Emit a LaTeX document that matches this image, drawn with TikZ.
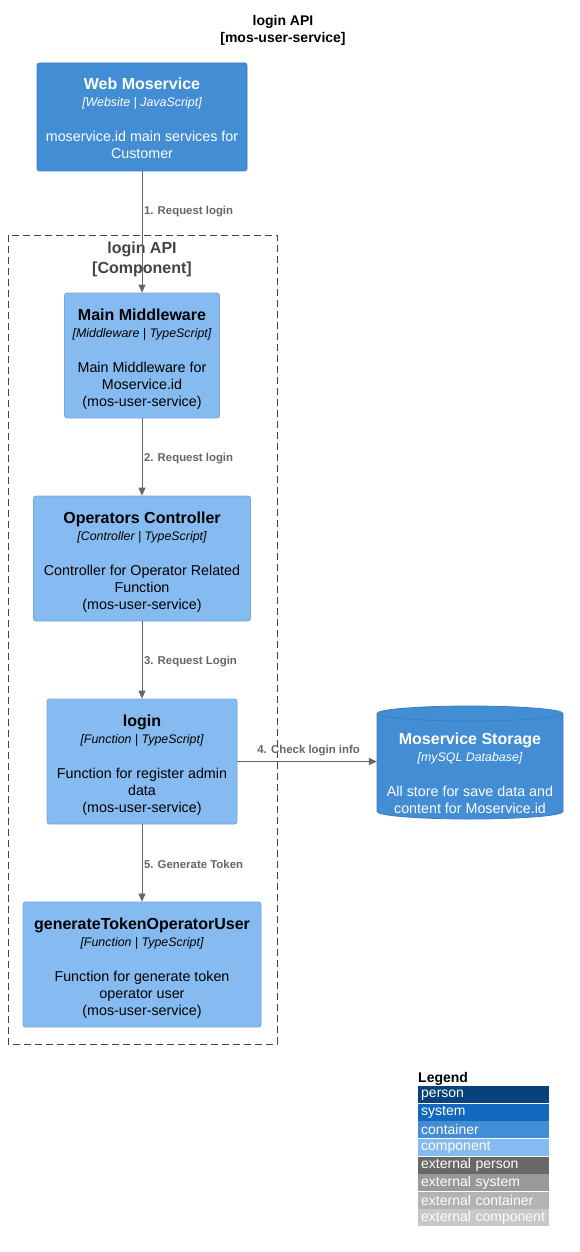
\documentclass[tikz,border=0pt]{standalone}
\usepackage{fontspec}
\setmainfont{Liberation Sans}
\usetikzlibrary{arrows.meta}
\definecolor{personc}{HTML}{08427B}
\definecolor{systemc}{HTML}{1168BD}
\definecolor{containerc}{HTML}{438DD5}
\definecolor{containerb}{HTML}{3C7FC0}
\definecolor{componentc}{HTML}{85BBF0}
\definecolor{componentb}{HTML}{78A8D8}
\definecolor{extpersonc}{HTML}{686868}
\definecolor{extsystemc}{HTML}{999999}
\definecolor{extcontainerc}{HTML}{B3B3B3}
\definecolor{extcomponentc}{HTML}{C8C8C8}
\definecolor{relgray}{HTML}{666666}
\definecolor{boundgray}{HTML}{444444}
\newcommand{\elemtext}[4][19pt]{{\rule{0pt}{#1}\fontsize{16}{17}\selectfont\bfseries #2}\\{\fontsize{12.4}{17}\selectfont\itshape #3}\\[18pt]#4}
\tikzset{
  elembox/.style={rectangle, rounded corners=2.5pt, align=center, inner sep=0pt, line width=0.8pt,
    font=\fontsize{14.3}{17}\selectfont},
  contbox/.style={elembox, fill=containerc, draw=containerb, text=white},
  compbox/.style={elembox, fill=componentc, draw=componentb, text=black},
  rel/.style={draw=relgray, line width=1pt, -{Triangle[length=8pt,width=7pt]}},
  rellabel/.style={font=\fontsize{11.4}{14}\selectfont\bfseries, text=relgray, inner sep=0pt, anchor=west, xshift=1.5pt},
  legrow/.style={anchor=north west, text width=125pt, align=left, inner xsep=3pt, inner ysep=0pt,
    minimum height=17pt, text=white, font=\fontsize{14}{15}\selectfont},
}
\begin{document}
\begin{tikzpicture}[x=1pt,y=-1pt]
\useasboundingbox (0,0) rectangle (579,1252);
\fill[white] (0,0) rectangle (579,1252);

% title
\node[align=center, font=\fontsize{14}{17}\selectfont\bfseries, inner sep=0pt] (title) at (283,30) {login API\\{}[mos-user-service]};

% boundary
\draw[boundgray, line width=0.8pt, dash pattern=on 7pt off 4pt] (8,235) rectangle (277,1044);
\node[align=center, font=\fontsize{16}{20}\selectfont\bfseries, text=boundgray, inner sep=0pt] (bound) at (142,259) {login API\\{}[Component]};

% elements
\node[contbox, minimum width=210pt, minimum height=108pt] (web) at (142,117)
  {\elemtext[15pt]{Web Moservice}{[Website | JavaScript]}{moservice.id main services for\\Customer}};
\node[compbox, minimum width=155pt, minimum height=125pt] (mm) at (142,355.5)
  {\elemtext{Main Middleware}{[Middleware | TypeScript]}{Main Middleware for\\Moservice.id\\(mos-user-service)}};
\node[compbox, minimum width=217pt, minimum height=125pt] (oc) at (142,558.5)
  {\elemtext{Operators Controller}{[Controller | TypeScript]}{Controller for Operator Related\\Function\\(mos-user-service)}};
\node[compbox, minimum width=190pt, minimum height=125pt] (login) at (142,761.5)
  {\elemtext{login}{[Function | TypeScript]}{Function for register admin\\data\\(mos-user-service)}};
\node[compbox, minimum width=238pt, minimum height=125pt] (gen) at (142,964.5)
  {\elemtext{generateTokenOperatorUser}{[Function | TypeScript]}{Function for generate token\\operator user\\(mos-user-service)}};

% database cylinder
\fill[containerc] (377,713.5) -- (377,811.5) arc[start angle=180,end angle=360,x radius=93pt,y radius=7.5pt]
  -- (563,713.5) arc[start angle=0,end angle=180,x radius=93pt,y radius=7.5pt] -- cycle;
\draw[containerb, line width=0.8pt] (377,713.5) -- (377,811.5) arc[start angle=180,end angle=360,x radius=93pt,y radius=7.5pt]
  -- (563,713.5) arc[start angle=0,end angle=180,x radius=93pt,y radius=7.5pt] -- cycle;
\draw[containerb, line width=0.8pt] (377,713.5) arc[start angle=180,end angle=360,x radius=93pt,y radius=7.5pt];
\node[align=center, inner sep=0pt, text=white, font=\fontsize{14.3}{17}\selectfont, minimum width=186pt] (stor) at (470,773.5)
  {\elemtext[12pt]{Moservice Storage}{[mySQL Database]}{All store for save data and\\content for Moservice.id}};

% relations
\draw[rel] (web) -- node[rellabel, pos=0.33] {1. Request login} (mm);
\draw[rel] (mm) -- node[rellabel, pos=0.52] {2. Request login} (oc);
\draw[rel] (oc) -- node[rellabel, pos=0.52] {3. Request Login} (login);
\draw[rel] (login.east) -- node[rellabel, pos=0.5, anchor=south, xshift=0pt, yshift=5pt] {4. Check login info} (stor.west |- login.east);
\draw[rel] (login) -- node[rellabel, pos=0.52] {5. Generate Token} (gen);

% legend
\node[anchor=west, inner sep=0pt, font=\fontsize{14}{17}\selectfont\bfseries] (legend) at (418,1079) {Legend};
\node[legrow, fill=personc] (l1) at (418,1086) {person};
\node[legrow, fill=systemc] (l2) at (418,1103.6) {system};
\node[legrow, fill=containerc] (l3) at (418,1121.2) {container};
\node[legrow, fill=componentc] (l4) at (418,1138.8) {component};
\node[legrow, fill=extpersonc] (l5) at (418,1156.4) {external person};
\node[legrow, fill=extsystemc] (l6) at (418,1174) {external system};
\node[legrow, fill=extcontainerc] (l7) at (418,1191.6) {external container};
\node[legrow, fill=extcomponentc] (l8) at (418,1209.2) {external component};
\end{tikzpicture}
\end{document}
